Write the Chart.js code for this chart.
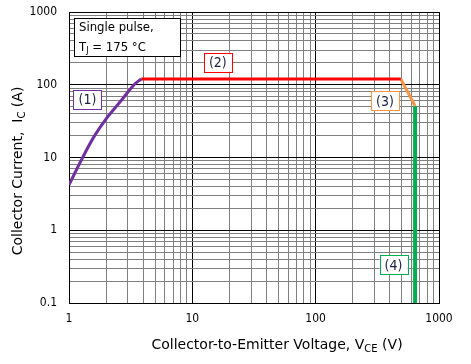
<!DOCTYPE html>
<html>
<head>
<meta charset="utf-8">
<script src="https://cdn.jsdelivr.net/npm/chart.js@4"></script>
<style>
  html, body { margin: 0; padding: 0; background: #fff; }
  #wrap { width: 471px; height: 364px; }
</style>
</head>
<body>
<div id="wrap"><canvas id="soa"></canvas></div>
<script>
// data (VCE in V, IC in A)
const vce1 = [1, 1.29, 1.6, 2, 2.55, 3.37, 3.85];
const ic1  = [4.2, 10, 19.5, 34, 56, 100, 120];
const vce2 = [3.85, 490];
const ic2  = [120, 120];
const vce3 = [490, 640];
const ic3  = [120, 51];
const vce4 = [640, 640];
const ic4  = [51, 0.1];

const xTicks = [1, 10, 100, 1000];
const yTicks = [0.1, 1, 10, 100, 1000];

// region labels: text, anchor (data coords), colour
const regionText = ["(1)", "(2)", "(3)", "(4)"];
const regionX = [1.41, 16.1, 365, 428];
const regionY = [62, 204, 60, 0.333];
const regionColor = ["#7030a0", "#ff0000", "#f79646", "#00b050"];

const FONT = '"DejaVu Sans Condensed", "DejaVu Sans", sans-serif';
const TFONT = '"DejaVu Sans", sans-serif';

const pts = (xs, ys) => xs.map((x, i) => ({ x: x, y: ys[i] }));

// all 1..9 x 10^n positions for the grid
const logGrid = (min, max) => {
    let out = [];
    for (let e = Math.round(Math.log10(min)); e < Math.round(Math.log10(max)); e++) {
        for (let m = 1; m < 10; m++) out.push(+(m * Math.pow(10, e)).toPrecision(3));
    }
    out.push(max);
    return out;
};
const isDecade = v => Math.abs(Math.log10(v) - Math.round(Math.log10(v))) < 1e-6;

const drawSub = (ctx, parts, x, y) => {
    // parts: [text, isSub]
    let total = 0;
    parts.forEach(p => {
        ctx.font = (p[1] ? "10px " : "14px ") + TFONT;
        total += ctx.measureText(p[0]).width;
    });
    let cx = x - total / 2;
    parts.forEach(p => {
        ctx.font = (p[1] ? "10px " : "14px ") + TFONT;
        ctx.fillText(p[0], cx, p[1] ? y + 4 : y);
        cx += ctx.measureText(p[0]).width;
    });
};

const extras = {
    id: "extras",
    afterDraw(chart) {
        const ctx = chart.ctx;
        const xs = chart.scales.x, ys = chart.scales.y;
        ctx.save();
        ctx.fillStyle = "#000";
        ctx.textBaseline = "middle";
        ctx.textAlign = "left";

        // axis titles
        drawSub(ctx, [["Collector-to-Emitter Voltage, V", false], ["CE", true], [" (V)", false]], 277, 345);
        ctx.save();
        ctx.translate(18, 171);
        ctx.rotate(-Math.PI / 2);
        drawSub(ctx, [["Collector Current,  I", false], ["C", true], [" (A)", false]], 0, 0);
        ctx.restore();

        // info box
        ctx.fillStyle = "#fff";
        ctx.fillRect(74, 18, 106, 38);
        ctx.strokeStyle = "#000";
        ctx.lineWidth = 1;
        ctx.strokeRect(74.5, 18.5, 106, 38);
        ctx.fillStyle = "#000";
        ctx.font = "13px " + FONT;
        ctx.fillText("Single pulse,", 79, 28);
        ctx.fillText("T", 79, 48);
        let w = ctx.measureText("T").width;
        ctx.font = "9px " + FONT;
        ctx.fillText("J", 79 + w, 51);
        let wj = ctx.measureText("J").width;
        ctx.font = "13px " + FONT;
        ctx.fillText(" = 175 \u00b0C", 79 + w + wj, 48);

        // region labels
        ctx.textAlign = "center";
        regionText.forEach((t, i) => {
            const px = xs.getPixelForValue(regionX[i]);
            const py = ys.getPixelForValue(regionY[i]);
            ctx.fillStyle = "#fff";
            ctx.fillRect(px - 14, py - 9.5, 28, 19);
            ctx.strokeStyle = regionColor[i];
            ctx.lineWidth = 1;
            ctx.strokeRect(Math.round(px - 14) + 0.5, Math.round(py - 9.5) + 0.5, 28, 19);
            ctx.fillStyle = "#1a2040";
            ctx.font = "14px " + FONT;
            ctx.fillText(t, px, py + 1);
        });
        ctx.restore();
    }
};

const line = (data, color, width) => ({
    data: data,
    borderColor: color,
    backgroundColor: color,
    borderWidth: width,
    pointRadius: 0,
    showLine: true,
    fill: false,
    tension: 0.35
});

new Chart(document.getElementById("soa"), {
    type: "scatter",
    data: {
        datasets: [
            line(pts(vce1, ic1), "#7030a0", 3),
            line(pts(vce2, ic2), "#ff0000", 3),
            line(pts(vce3, ic3), "#f79646", 3),
            line(pts(vce4, ic4), "#00b050", 4)
        ]
    },
    options: {
        responsive: true,
        maintainAspectRatio: false,
        animation: false,
        layout: { padding: { top: 12, right: 32, left: 0, bottom: 0 } },
        plugins: { legend: { display: false }, tooltip: { enabled: false } },
        scales: {
            x: {
                type: "logarithmic",
                min: 1, max: 1000,
                afterFit: s => { s.height = 61; },
                afterBuildTicks: s => { s.ticks = logGrid(1, 1000).map(v => ({ value: v })); },
                border: { color: "#000", width: 1 },
                grid: {
                    drawTicks: false,
                    color: c => isDecade(c.tick.value) ? "#000" : "#808080",
                    lineWidth: 1
                },
                ticks: {
                    padding: 9,
                    autoSkip: false,
                    maxRotation: 0,
                    color: "#000",
                    font: { family: FONT, size: 12 },
                    callback: v => xTicks.includes(v) ? String(v) : ""
                }
            },
            y: {
                type: "logarithmic",
                min: 0.1, max: 1000,
                // tick padding would otherwise push the plot top down
                afterFit: s => { s.width = 69; s.paddingTop = 7; s.paddingBottom = 7; },
                afterBuildTicks: s => { s.ticks = logGrid(0.1, 1000).map(v => ({ value: v })); },
                border: { color: "#000", width: 1 },
                grid: {
                    drawTicks: false,
                    color: c => isDecade(c.tick.value) ? "#000" : "#808080",
                    lineWidth: 1
                },
                ticks: {
                    padding: 12,
                    autoSkip: false,
                    color: "#000",
                    font: { family: FONT, size: 12 },
                    callback: v => yTicks.includes(v) ? String(v) : ""
                }
            }
        }
    },
    plugins: [extras]
});
</script>
</body>
</html>
